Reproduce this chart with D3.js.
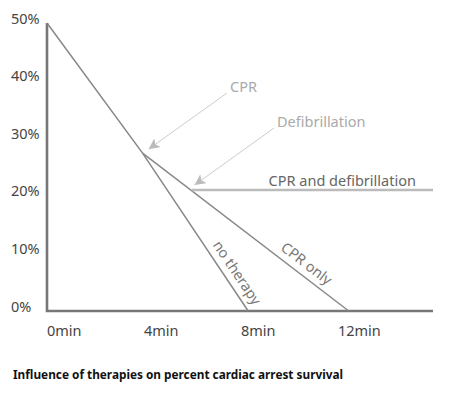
<!DOCTYPE html>
<html>
<head>
<meta charset="utf-8">
<script src="https://cdn.jsdelivr.net/npm/d3@7"></script>
<style>
  body { margin: 0; background: #fff; }
  svg { display: block; font-family: "Noto Sans", "Open Sans", sans-serif; }
</style>
</head>
<body>
<svg width="470" height="395"></svg>
<script>
// survival (%) against minutes after arrest
var noTherapy = [{t: 0, v: 50}, {t: 3.8, v: 27.4}, {t: 8, v: 0}];
var cprOnly = [{t: 3.8, v: 27.4}, {t: 12, v: 0}];
var cprDefib = [{t: 5.75, v: 21}, {t: 15.35, v: 21}];
var xTicks = [0, 4, 8, 12];
var xTickLabels = ["0min", "4min", "8min", "12min"];
var yTicks = [0, 10, 20, 30, 40, 50];
var yTickLabels = ["0%", "10%", "20%", "30%", "40%", "50%"];

var svg = d3.select("svg");

var x = d3.scaleLinear().domain([0, 15.35]).range([47, 433]);
var y = d3.scaleLinear().domain([0, 50]).range([311, 23]);

var line = d3.line()
    .x(function (d) { return x(d.t); })
    .y(function (d) { return y(d.v); });

/* axes: plain lines, labels placed by hand below */
svg.append("path")
    .attr("d", "M" + x(0) + "," + y(50) + "V" + y(0) + "H" + x(15.35))
    .attr("fill", "none")
    .attr("stroke", "#777")
    .attr("stroke-width", 2.6);

svg.append("g").selectAll("text")
    .data(yTicks)
    .enter().append("text")
    .attr("x", 11)
    .attr("y", function (d) { return y(d) + 0.5; })
    .attr("font-size", 14.5)
    .attr("fill", "#444")
    .text(function (d, i) { return yTickLabels[i]; });

svg.append("g").selectAll("text")
    .data(xTicks)
    .enter().append("text")
    .attr("x", function (d) { return x(d) - d * 0.9; })
    .attr("y", 336)
    .attr("font-size", 14.5)
    .attr("fill", "#444")
    .text(function (d, i) { return xTickLabels[i]; });

/* series */
svg.append("path")
    .datum(noTherapy)
    .attr("d", line)
    .attr("fill", "none")
    .attr("stroke", "#888")
    .attr("stroke-width", 1.5);

svg.append("path")
    .datum(cprOnly)
    .attr("d", line)
    .attr("fill", "none")
    .attr("stroke", "#888")
    .attr("stroke-width", 1.5);

svg.append("path")
    .datum(cprDefib)
    .attr("d", line)
    .attr("fill", "none")
    .attr("stroke", "#bbb")
    .attr("stroke-width", 2.6);

svg.append("text")
    .attr("x", x(cprDefib[0].t) + 77)
    .attr("y", y(cprDefib[0].v) - 4)
    .attr("font-size", 14.5)
    .attr("fill", "#666")
    .text("CPR and defibrillation");

/* text running along a segment, sitting on its upper side */
function slopeLabel(a, b, frac, off, txt) {
    var x1 = x(a.t), y1 = y(a.v), x2 = x(b.t), y2 = y(b.v);
    var ang = Math.atan2(y2 - y1, x2 - x1);
    var px = x1 + (x2 - x1) * frac + Math.sin(ang) * off;
    var py = y1 + (y2 - y1) * frac - Math.cos(ang) * off;
    svg.append("text")
        .attr("transform", "translate(" + px + "," + py + ") rotate(" + ang * 180 / Math.PI + ")")
        .attr("text-anchor", "middle")
        .attr("font-size", 14.5)
        .attr("fill", "#777")
        .text(txt);
}
slopeLabel(noTherapy[1], noTherapy[2], 0.8, 7, "no therapy");
slopeLabel(cprOnly[0], cprOnly[1], 0.76, 7, "CPR only");

/* annotation arrows */
var defs = svg.append("defs");
defs.append("marker")
    .attr("id", "head")
    .attr("viewBox", "0 0 10 10")
    .attr("refX", 10)
    .attr("refY", 5)
    .attr("markerWidth", 11)
    .attr("markerHeight", 11)
    .attr("markerUnits", "userSpaceOnUse")
    .attr("orient", "auto")
    .append("path")
    .attr("d", "M0,0L10,5L0,10L2.5,5Z")
    .attr("fill", "#bbb");

function arrow(fromX, fromY, pt, dx, dy, txt, tx, ty) {
    svg.append("line")
        .attr("x1", fromX).attr("y1", fromY)
        .attr("x2", x(pt.t) + dx).attr("y2", y(pt.v) + dy)
        .attr("stroke", "#ccc")
        .attr("stroke-width", 1)
        .attr("marker-end", "url(#head)");
    svg.append("text")
        .attr("x", tx)
        .attr("y", ty)
        .attr("font-size", 14.5)
        .attr("fill", "#aaa")
        .text(txt);
}
arrow(227, 93, cprOnly[0], 6, -4, "CPR", 230, 91.5);
arrow(274, 128, cprDefib[0], 3, -5, "Defibrillation", 277, 126.5);

/* caption */
svg.append("text")
    .attr("x", 13)
    .attr("y", 379)
    .attr("font-size", 11.5)
    .attr("font-weight", "bold")
    .attr("fill", "#111")
    .attr("textLength", 330)
    .attr("lengthAdjust", "spacingAndGlyphs")
    .text("Influence of therapies on percent cardiac arrest survival");
</script>
</body>
</html>
